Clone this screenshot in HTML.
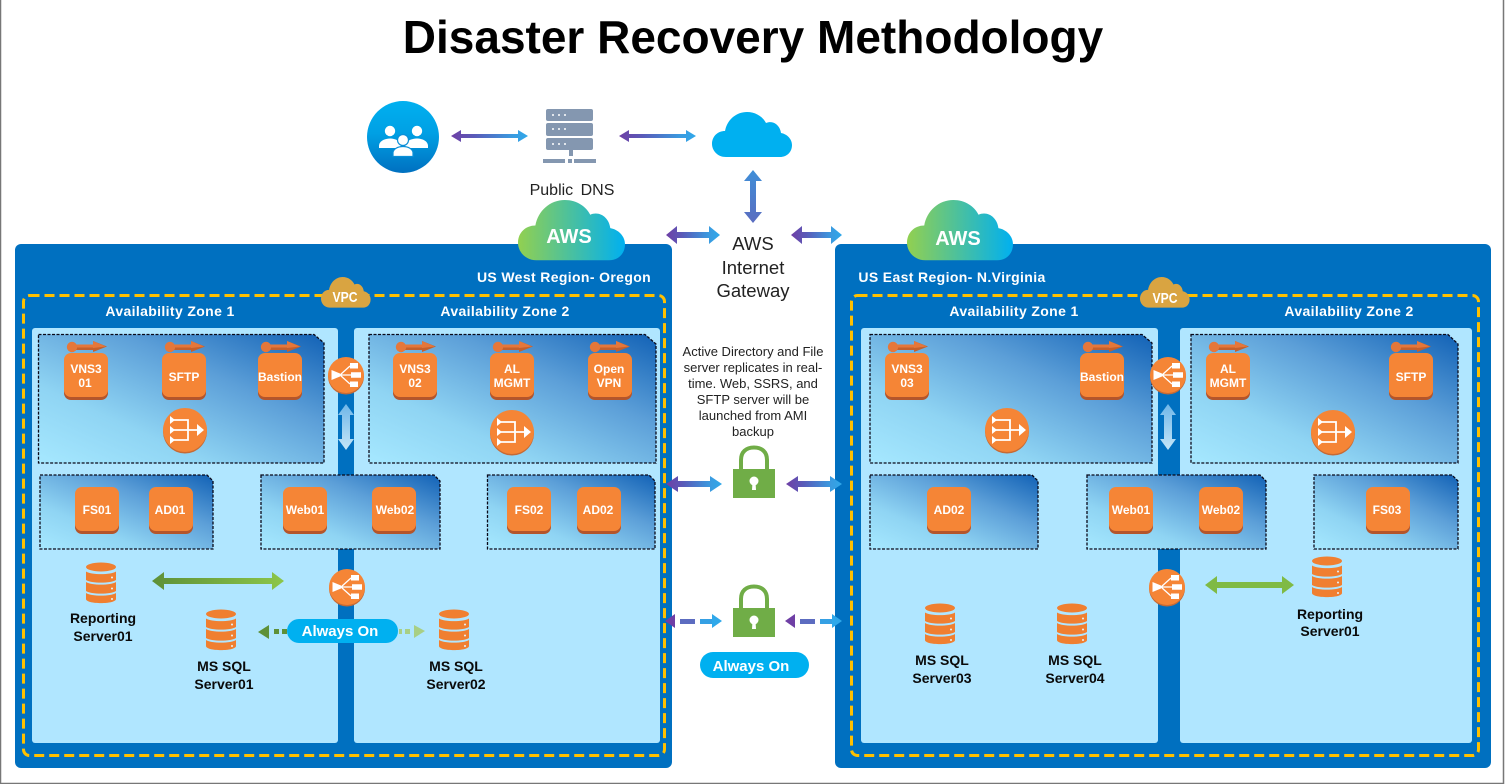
<!DOCTYPE html>
<html>
<head>
<meta charset="utf-8">
<title>Disaster Recovery Methodology</title>
<style>
html,body{margin:0;padding:0;background:#fff;width:1505px;height:784px;overflow:hidden}
svg{display:block;filter:blur(.35px)}
text{font-family:"Liberation Sans",sans-serif;text-anchor:middle}
.i{fill:#fff;font-size:12px;font-weight:bold}
.w{fill:#fff;font-weight:bold;font-size:14px;letter-spacing:.36px}
.k{fill:#0a0a0a;font-weight:bold;font-size:14px}
.g{fill:#222;font-size:18.5px}
.p{fill:#222;font-size:13px}
.a{font-size:15px;font-weight:bold;fill:#fff}
</style>
</head>
<body>
<svg width="1505" height="784" viewBox="0 0 1505 784" xmlns="http://www.w3.org/2000/svg">
<defs>
<linearGradient id="sub" x1="0" y1="1" x2="1" y2="0"><stop offset="0" stop-color="#A6E8FF"/><stop offset=".3" stop-color="#8FD4F3"/><stop offset=".65" stop-color="#5C9FD8"/><stop offset="1" stop-color="#1262B6"/></linearGradient>
<linearGradient id="pb" x1="0" y1="0" x2="1" y2="0"><stop offset="0" stop-color="#6F3FA5"/><stop offset=".3" stop-color="#5A5AB8"/><stop offset=".8" stop-color="#3A9BE0"/><stop offset="1" stop-color="#2FA8EA"/></linearGradient>
<linearGradient id="pbv" x1="0" y1="0" x2="0" y2="1"><stop offset="0" stop-color="#3F8FD8"/><stop offset="1" stop-color="#5A6CC0"/></linearGradient>
<linearGradient id="aws" x1="0" y1="0" x2="1" y2="0"><stop offset="0" stop-color="#92D050"/><stop offset="1" stop-color="#00B0F0"/></linearGradient>
<linearGradient id="usr" x1="0" y1="0" x2="0" y2="1"><stop offset="0" stop-color="#00B0F0"/><stop offset=".45" stop-color="#00A0E4"/><stop offset="1" stop-color="#0070C0"/></linearGradient>
<linearGradient id="lv" x1="0" y1="0" x2="0" y2="1"><stop offset="0" stop-color="#6FB6E8"/><stop offset="1" stop-color="#C5E6F8"/></linearGradient>
<linearGradient id="gr" x1="0" y1="0" x2="1" y2="0"><stop offset="0" stop-color="#5E9038"/><stop offset="1" stop-color="#8CC64A"/></linearGradient>

<path id="cloud" d="M14 45C5 45 0 38 0 32C0 24 6 19 13 19C15 8 24 0 35 0C44 0 51 5 54 11C61 8 68 13 69 21C75 22 80 27 80 33C80 40 75 45 68 45Z"/>

<g id="inst">
<rect x="0" y="3" width="44" height="44" rx="7" fill="#B4552B"/>
<rect x="0" y="0" width="44" height="44" rx="7" fill="#F58536"/>
</g>
<g id="tag">
<path d="M8 4.500H31V10H8Z" fill="#C5602C"/>
<path d="M8 4.500H31V7.500H8Z" fill="#E5773A"/>
<path d="M28 1L42 6.500L28 12Z" fill="#C5602C"/>
<path d="M28 1L41 6.500L28 8Z" fill="#E5773A"/>
<circle cx="7" cy="7" r="5.200" fill="#E5773A"/>
</g>
<g id="nat">
<circle cx="0" cy="1.500" r="22" fill="#C66A35"/>
<circle cx="0" cy="0" r="22" fill="#F58536"/>
<g fill="none" stroke="#fff" stroke-width="1.800"><path d="M-12 -10H3V10H-12M-12 0H13"/></g>
<path d="M-15 -14L-10 -10L-15 -6ZM-15 -4L-10 0L-15 4ZM-15 6L-10 10L-15 14ZM12 -6L19 0L12 6Z" fill="#fff"/>
</g>
<g id="elb">
<circle cx="0" cy="1.500" r="18" fill="#C66A35"/>
<circle cx="0" cy="0" r="18" fill="#F58536"/>
<g fill="#fff"><path d="M-14.500 -5L-6 -1.500V1.500L-14.500 5Z"/><rect x="4" y="-12" width="8" height="5.500"/><rect x="5" y="-2.750" width="10" height="5.500"/><rect x="4" y="6.500" width="8" height="5.500"/></g>
<g fill="none" stroke="#fff" stroke-width="1.300"><path d="M-6 0H5M-6 0L4 -9M-6 0L4 9"/></g>
</g>
<g id="db">
<g fill="#F07F30">
<ellipse cx="15" cy="5" rx="15" ry="4.500"/>
<path d="M0 9.500C5 13 25 13 30 9.500V18C25 21.500 5 21.500 0 18Z"/>
<path d="M0 20C5 23.500 25 23.500 30 20V29C25 32.500 5 32.500 0 29Z"/>
<path d="M0 31C5 34.500 25 34.500 30 31V37C30 42.500 0 42.500 0 37Z"/>
</g>
<g fill="#E8F4FA"><circle cx="26" cy="15.500" r="1"/><circle cx="26" cy="26.500" r="1"/><circle cx="26" cy="37" r="1"/></g>
</g>
<g id="lock">
<path d="M8 24V14C8 6 13 1.500 21 1.500C29 1.500 34 6 34 14V24" fill="none" stroke="#70AD47" stroke-width="4"/>
<rect x="0" y="23" width="42" height="29" fill="#70AD47"/>
<circle cx="21" cy="35" r="4.500" fill="#fff"/><path d="M19.500 36H22.500L23 44H19Z" fill="#fff"/>
</g>
</defs>

<rect width="1505" height="784" fill="#fff"/>
<path d="M0.500 0V783.500H1503.500V0" fill="none" stroke="#777" stroke-width="1.500"/>

<text x="753" y="53" style="font-size:46px;font-weight:bold;fill:#000">Disaster Recovery Methodology</text>

<!-- top row -->
<circle cx="403" cy="137" r="36" fill="url(#usr)"/>
<g fill="#fff">
<circle cx="390" cy="131" r="5.200"/><circle cx="417" cy="131" r="5.200"/>
<path d="M379 148V146C379 141 385 138.500 390 138.500C395 138.500 401 141 401 146V148Z"/>
<path d="M405 148V146C405 141 412 138.500 417 138.500C422 138.500 428 141 428 146V148Z"/>
<circle cx="403" cy="140" r="5.500" stroke="#0A8FD8" stroke-width="1.200"/>
<path d="M393 156.500V153C393 149 398 146.500 403 146.500C408 146.500 413 149 413 153V156.500Z" stroke="#0A8FD8" stroke-width="1.200"/>
</g>
<g fill="#8497B0">
<rect x="546" y="109" width="47" height="12" rx="2"/><rect x="546" y="123" width="47" height="13" rx="2"/><rect x="546" y="138" width="47" height="12" rx="2"/>
<rect x="569" y="150" width="4" height="6"/><rect x="543" y="159" width="22" height="4"/><rect x="568" y="159" width="4" height="4"/><rect x="574" y="159" width="22" height="4"/>
</g>
<g fill="#fff"><circle cx="553" cy="115" r="1"/><circle cx="559" cy="115" r="1"/><circle cx="565" cy="115" r="1"/><circle cx="553" cy="129" r="1"/><circle cx="559" cy="129" r="1"/><circle cx="565" cy="129" r="1"/><circle cx="553" cy="144" r="1"/><circle cx="559" cy="144" r="1"/><circle cx="565" cy="144" r="1"/></g>
<text x="572" y="195" style="font-size:16px;fill:#222;word-spacing:3px">Public DNS</text>
<use href="#cloud" x="712" y="112" fill="#00B0F0"/>

<polygon fill="url(#pb)" points="451,136 461,130 461,134 518,134 518,130 528,136 518,142 518,138 461,138 461,142"/>
<polygon fill="url(#pb)" points="619,136 629,130 629,134 686,134 686,130 696,136 686,142 686,138 629,138 629,142"/>
<polygon fill="url(#pbv)" points="753,170 762,181 756,181 756,212 762,212 753,223 744,212 750,212 750,181 744,181"/>
<polygon fill="url(#pb)" points="666,235 677,226 677,232 709,232 709,226 720,235 709,244 709,238 677,238 677,244"/>
<polygon fill="url(#pb)" points="791,235 802,226 802,232 831,232 831,226 842,235 831,244 831,238 802,238 802,244"/>

<!-- regions -->
<rect x="15" y="244" width="657" height="524" rx="6" fill="#0070C0"/>
<rect x="835" y="244" width="656" height="524" rx="6" fill="#0070C0"/>

<g transform="translate(518,200) scale(1.3375,1.34)"><use href="#cloud" fill="url(#aws)"/></g>
<g transform="translate(907,200) scale(1.325,1.34)"><use href="#cloud" fill="url(#aws)"/></g>
<text x="569" y="243" style="font-size:20px;font-weight:bold;fill:#fff">AWS</text>
<text x="958" y="245" style="font-size:20px;font-weight:bold;fill:#fff">AWS</text>

<text x="564" y="282" class="w">US West Region- Oregon</text>
<text x="952" y="282" class="w">US East Region- N.Virginia</text>

<text x="753" y="250" class="g">AWS</text>
<text x="753" y="274" class="g">Internet</text>
<text x="753" y="297" class="g">Gateway</text>

<!-- AZ panels -->
<g fill="#B0E6FF">
<rect x="32" y="328" width="306" height="415" rx="3"/>
<rect x="354" y="328" width="306" height="415" rx="3"/>
<rect x="861" y="328" width="297" height="415" rx="3"/>
<rect x="1180" y="328" width="292" height="415" rx="3"/>
</g>

<!-- VPC dashed -->
<rect x="23.500" y="295.500" width="641" height="460" rx="6" fill="none" stroke="#FFC000" stroke-width="3" stroke-dasharray="10 5"/>
<rect x="851.500" y="295.500" width="627" height="460" rx="6" fill="none" stroke="#FFC000" stroke-width="3" stroke-dasharray="10 5"/>
<g transform="translate(321,277) scale(.62,.68)"><use href="#cloud" fill="#D9A441"/></g>
<g transform="translate(1140,277) scale(.62,.68)"><use href="#cloud" fill="#D9A441"/></g>
<text x="345" y="302" textLength="25" lengthAdjust="spacingAndGlyphs" style="font-size:15px;fill:#fff;font-weight:bold">VPC</text>
<text x="1165" y="303" textLength="25" lengthAdjust="spacingAndGlyphs" style="font-size:15px;fill:#fff;font-weight:bold">VPC</text>

<text x="170" y="316" class="w">Availability Zone 1</text>
<text x="505" y="316" class="w">Availability Zone 2</text>
<text x="1014" y="316" class="w">Availability Zone 1</text>
<text x="1349" y="316" class="w">Availability Zone 2</text>

<!-- subnets -->
<g fill="url(#sub)" stroke="#0a0a1a" stroke-width="1.300" stroke-dasharray="3 1.500">
<path d="M38.500 334.500H314L324 343V463H38.500Z"/>
<path d="M369 334.500H645L656 344V463H369Z"/>
<path d="M40 475H207L213 481V549H40Z"/>
<path d="M261 475H434L440 481V549H261Z"/>
<path d="M487.500 475H649L655 481V549H487.500Z"/>
<path d="M870 334.500H1142L1152 343V463H870Z"/>
<path d="M1191 334.500H1448L1458 344V463H1191Z"/>
<path d="M870 475H1032L1038 481V549H870Z"/>
<path d="M1087 475H1260L1266 481V549H1087Z"/>
<path d="M1314 475H1452L1458 481V549H1314Z"/>
</g>

<!-- tags -->
<use href="#tag" x="65" y="340"/><use href="#tag" x="163" y="340"/><use href="#tag" x="259" y="340"/>
<use href="#tag" x="394" y="340"/><use href="#tag" x="491" y="340"/><use href="#tag" x="588" y="340"/>
<use href="#tag" x="886" y="340"/><use href="#tag" x="1081" y="340"/><use href="#tag" x="1207" y="340"/><use href="#tag" x="1389" y="340"/>

<!-- instances -->
<use href="#inst" x="64" y="353"/><use href="#inst" x="162" y="353"/><use href="#inst" x="258" y="353"/>
<use href="#inst" x="393" y="353"/><use href="#inst" x="490" y="353"/><use href="#inst" x="588" y="353"/>
<use href="#inst" x="885" y="353"/><use href="#inst" x="1080" y="353"/><use href="#inst" x="1206" y="353"/><use href="#inst" x="1389" y="353"/>
<use href="#inst" x="75" y="487"/><use href="#inst" x="149" y="487"/><use href="#inst" x="283" y="487"/><use href="#inst" x="372" y="487"/><use href="#inst" x="507" y="487"/><use href="#inst" x="577" y="487"/>
<use href="#inst" x="927" y="487"/><use href="#inst" x="1109" y="487"/><use href="#inst" x="1199" y="487"/><use href="#inst" x="1366" y="487"/>

<text x="86" y="373" class="i">VNS3</text><text x="85" y="387" class="i">01</text>
<text x="184" y="381" class="i">SFTP</text>
<text x="280" y="381" class="i">Bastion</text>
<text x="415" y="373" class="i">VNS3</text><text x="415" y="387" class="i">02</text>
<text x="512" y="373" class="i">AL</text><text x="512" y="387" class="i">MGMT</text>
<text x="609" y="373" class="i">Open</text><text x="609" y="387" class="i">VPN</text>
<text x="907" y="373" class="i">VNS3</text><text x="907" y="387" class="i">03</text>
<text x="1102" y="381" class="i">Bastion</text>
<text x="1228" y="373" class="i">AL</text><text x="1228" y="387" class="i">MGMT</text>
<text x="1411" y="381" class="i">SFTP</text>
<text x="97" y="514" class="i">FS01</text>
<text x="170" y="514" class="i">AD01</text>
<text x="305" y="514" class="i">Web01</text>
<text x="395" y="514" class="i">Web02</text>
<text x="529" y="514" class="i">FS02</text>
<text x="598" y="514" class="i">AD02</text>
<text x="949" y="514" class="i">AD02</text>
<text x="1131" y="514" class="i">Web01</text>
<text x="1221" y="514" class="i">Web02</text>
<text x="1387" y="514" class="i">FS03</text>

<!-- NAT & ELB -->
<use href="#nat" x="185" y="430"/><use href="#nat" x="512" y="432"/><use href="#nat" x="1007" y="430"/><use href="#nat" x="1333" y="432"/>
<use href="#elb" x="346" y="375"/><use href="#elb" x="1168" y="375"/><use href="#elb" x="347" y="587"/><use href="#elb" x="1167" y="587"/>

<polygon fill="url(#lv)" points="346,404 354,415 350,415 350,439 354,439 346,450 338,439 342,439 342,415 338,415"/>
<polygon fill="url(#lv)" points="1168,404 1176,415 1172,415 1172,439 1176,439 1168,450 1160,439 1164,439 1164,415 1160,415"/>

<!-- databases -->
<use href="#db" x="86" y="562"/><use href="#db" x="206" y="609"/><use href="#db" x="439" y="609"/>
<use href="#db" x="925" y="603"/><use href="#db" x="1057" y="603"/><use href="#db" x="1312" y="556"/>

<polygon fill="url(#gr)" points="152,581 164,572 164,578 272,578 272,572 284,581 272,590 272,584 164,584 164,590"/>
<polygon fill="#7FBA45" points="1205,585 1217,576 1217,582 1282,582 1282,576 1294,585 1282,594 1282,588 1217,588 1217,594"/>

<!-- always on left -->
<g fill="#5E9038"><polygon points="258,632 269,625 269,639"/><rect x="274" y="629" width="5" height="5"/><rect x="282" y="629" width="5" height="5"/></g>
<g fill="#A8CF85"><rect x="399" y="629" width="3" height="5"/><rect x="405" y="629" width="5" height="5"/><polygon points="414,625 425,631 414,638"/></g>
<rect x="287" y="619" width="111" height="24" rx="12" fill="#00B0F0"/>
<text x="340" y="636" class="a">Always On</text>

<!-- center -->
<text x="753" y="356" class="p">Active Directory and File</text>
<text x="753" y="372" class="p">server replicates in real-</text>
<text x="753" y="388" class="p">time. Web, SSRS, and</text>
<text x="753" y="404" class="p">SFTP server will be</text>
<text x="753" y="420" class="p">launched from AMI</text>
<text x="753" y="436" class="p">backup</text>

<use href="#lock" x="733" y="446"/>
<use href="#lock" x="733" y="585"/>
<polygon fill="url(#pb)" points="666,484 678,476 678,481 710,481 710,476 722,484 710,492 710,487 678,487 678,492"/>
<polygon fill="url(#pb)" points="786,484 798,476 798,481 830,481 830,476 842,484 830,492 830,487 798,487 798,492"/>

<polygon fill="#6F3FA5" points="665,621 675,614 675,628"/>
<rect x="680" y="619" width="15" height="5" fill="#5C6CC0"/>
<rect x="700" y="619" width="12" height="5" fill="#35A0E4"/>
<polygon fill="#2FA8EA" points="712,614 722,621 712,628"/>
<polygon fill="#6F3FA5" points="785,621 795,614 795,628"/>
<rect x="800" y="619" width="15" height="5" fill="#5C6CC0"/>
<rect x="820" y="619" width="12" height="5" fill="#35A0E4"/>
<polygon fill="#2FA8EA" points="832,614 842,621 832,628"/>

<rect x="700" y="652" width="109" height="26" rx="13" fill="#00B0F0"/>
<text x="751" y="671" class="a">Always On</text>

<!-- labels -->
<text x="103" y="623" class="k">Reporting</text><text x="103" y="641" class="k">Server01</text>
<text x="224" y="671" class="k">MS SQL</text><text x="224" y="689" class="k">Server01</text>
<text x="456" y="671" class="k">MS SQL</text><text x="456" y="689" class="k">Server02</text>
<text x="942" y="665" class="k">MS SQL</text><text x="942" y="683" class="k">Server03</text>
<text x="1075" y="665" class="k">MS SQL</text><text x="1075" y="683" class="k">Server04</text>
<text x="1330" y="619" class="k">Reporting</text><text x="1330" y="636" class="k">Server01</text>
</svg>
</body>
</html>
